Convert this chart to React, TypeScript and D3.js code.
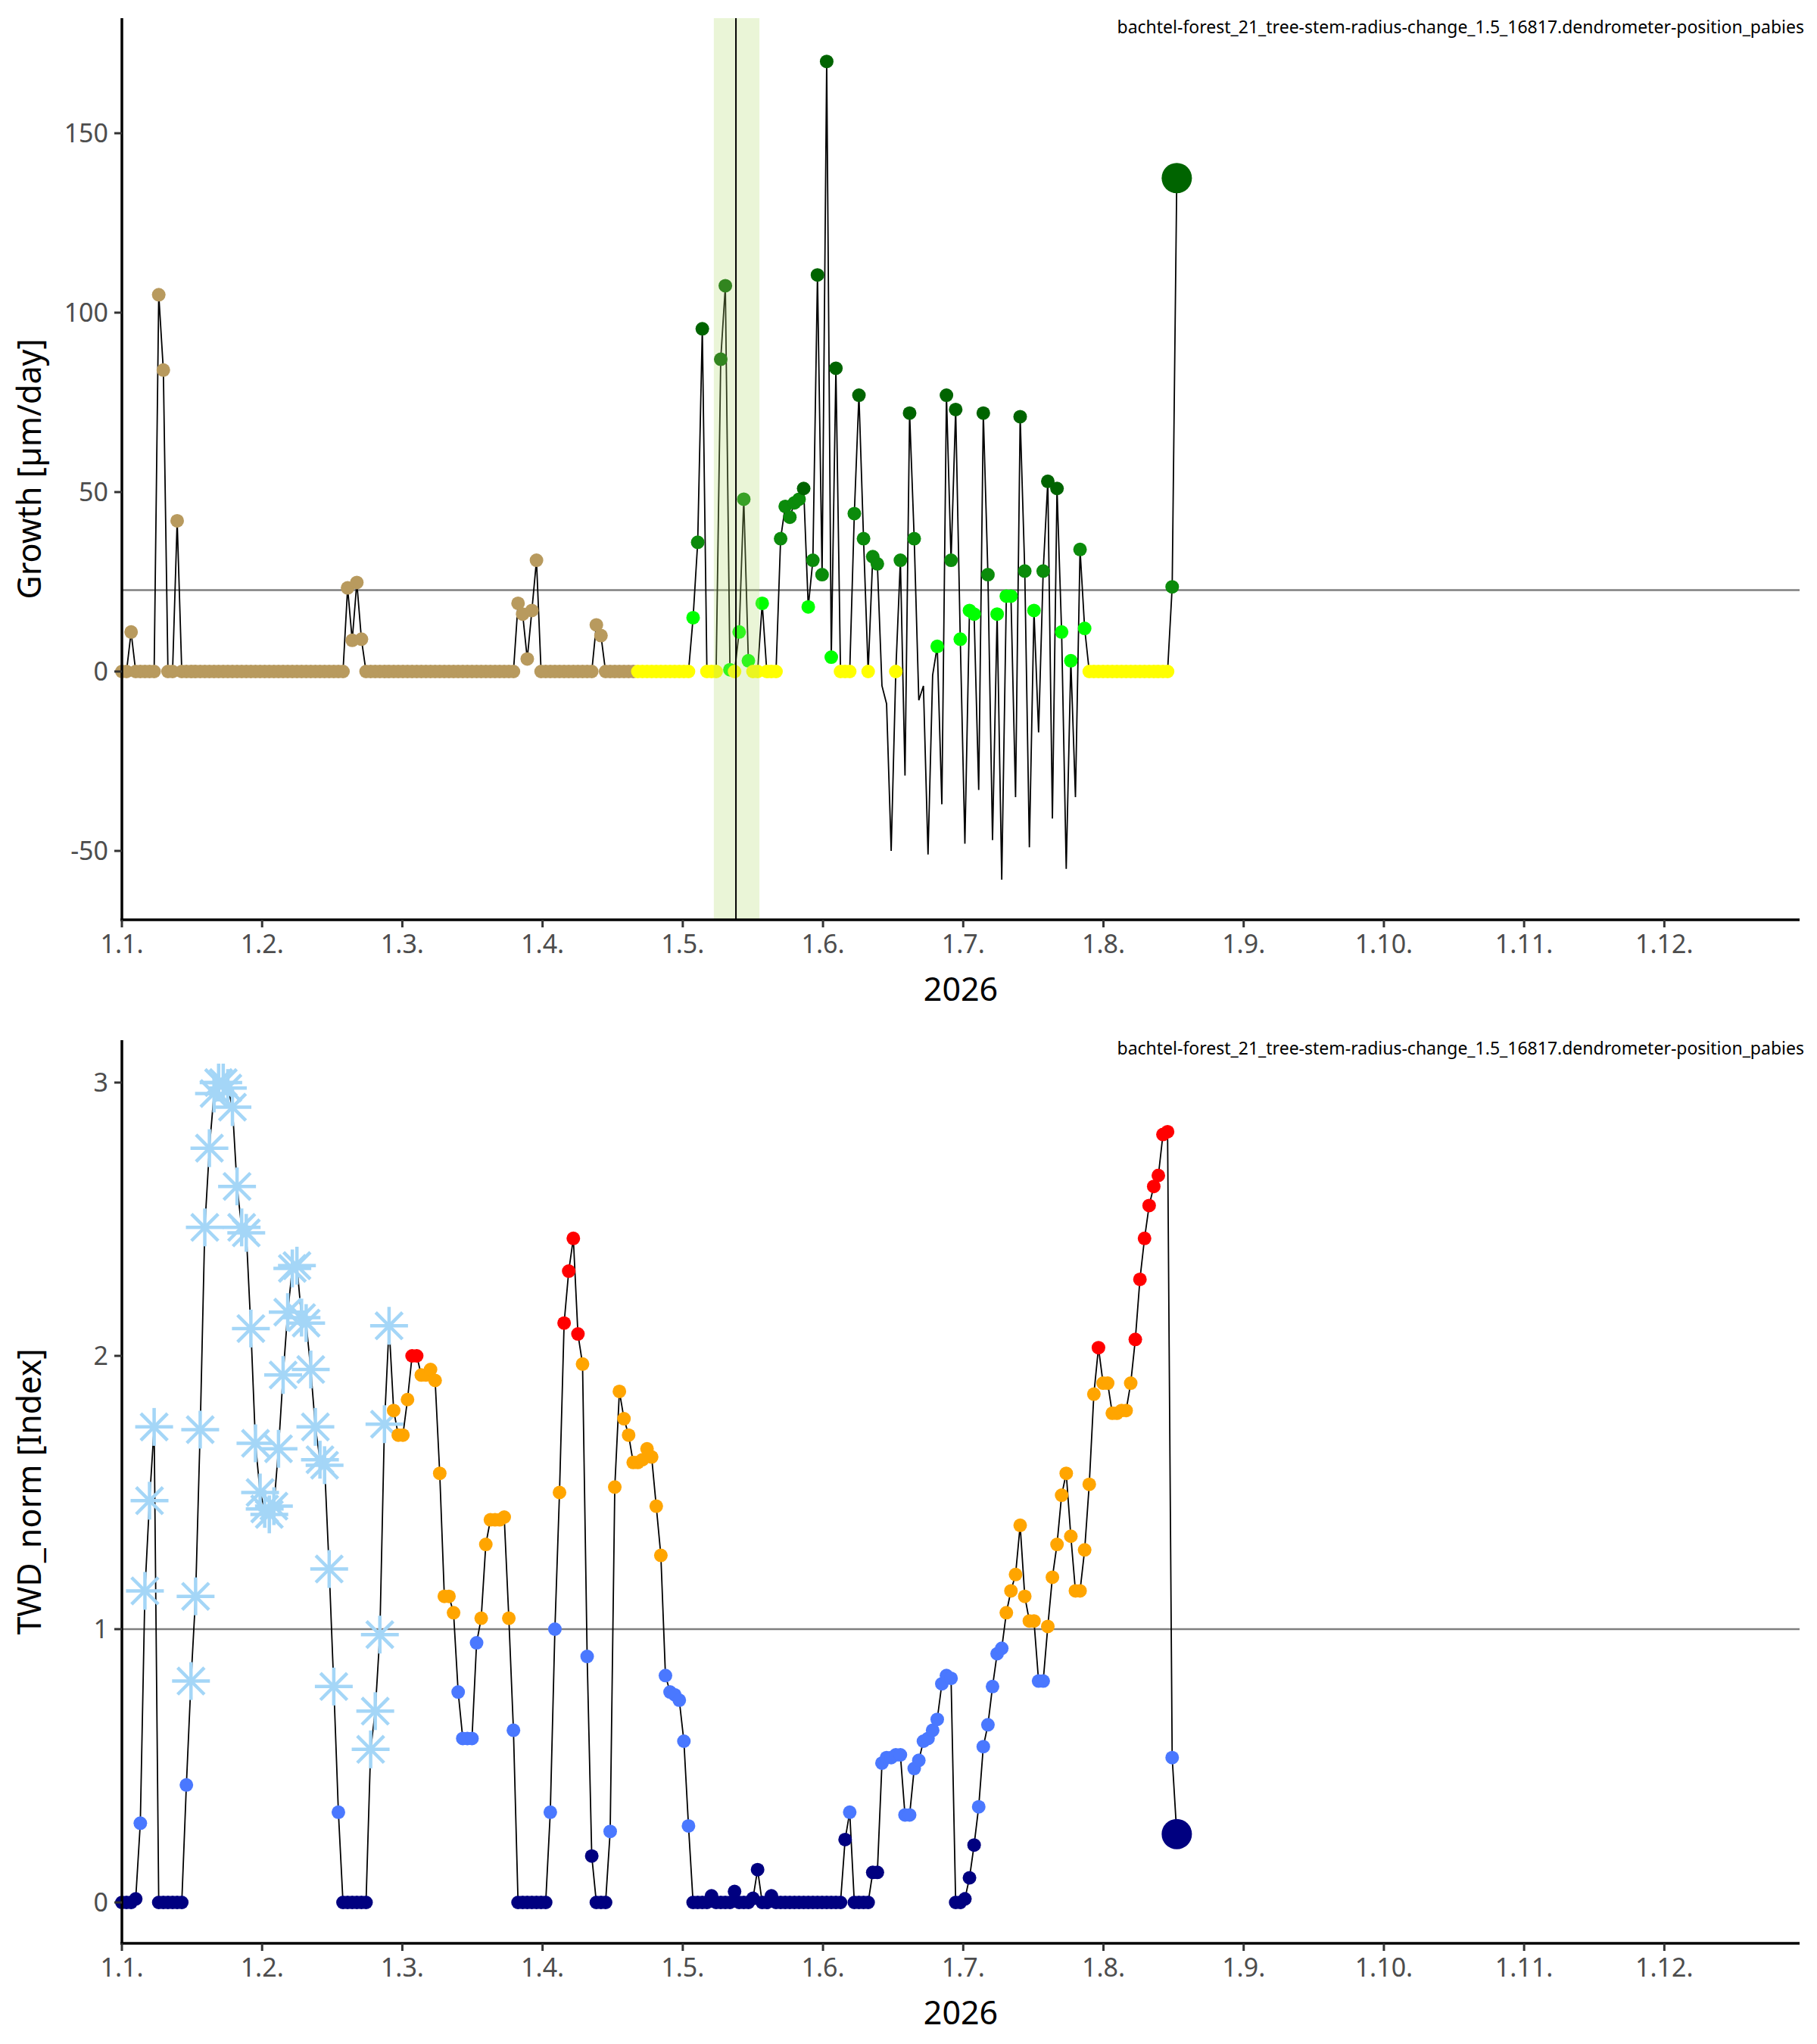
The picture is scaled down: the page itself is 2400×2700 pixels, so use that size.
import React from "react";
import * as d3 from "d3";

// Daily values, day index 0 = 1 Jan 2026
const growth: number[] = [
  0, 0, 11, 0, 0, 0, 0, 0, 105, 84,
  0, 0, 42, 0, 0, 0, 0, 0, 0, 0,
  0, 0, 0, 0, 0, 0, 0, 0, 0, 0,
  0, 0, 0, 0, 0, 0, 0, 0, 0, 0,
  0, 0, 0, 0, 0, 0, 0, 0, 0, 23.3,
  8.7, 24.8, 9, 0, 0, 0, 0, 0, 0, 0,
  0, 0, 0, 0, 0, 0, 0, 0, 0, 0,
  0, 0, 0, 0, 0, 0, 0, 0, 0, 0,
  0, 0, 0, 0, 0, 0, 19, 16, 3.5, 17,
  31, 0, 0, 0, 0, 0, 0, 0, 0, 0,
  0, 0, 0, 13, 10, 0, 0, 0, 0, 0,
  0, 0, 0, 0, 0, 0, 0, 0, 0, 0,
  0, 0, 0, 0, 15, 36, 95.5, 0, 0, 0,
  87, 107.5, 0.5, 0, 11, 48, 3, 0, 0, 19,
  0, 0, 0, 37, 46, 43, 47, 48, 51, 18,
  31, 110.5, 27, 170, 4, 84.5, 0, 0, 0, 44,
  77, 37, 0, 32, 30, -4, -9, -50, 0, 31,
  -29, 72, 37, -8, -4, -51, -1, 7, -37, 77,
  31, 73, 9, -48, 17, 16, -33, 72, 27, -47,
  16, -58, 21, 21, -35, 71, 28, -49, 17, -17,
  28, 53, -41, 51, 11, -55, 3, -35, 34, 12,
  0, 0, 0, 0, 0, 0, 0, 0, 0, 0,
  0, 0, 0, 0, 0, 0, 0, 0, 23.6, 137.5,
];

const twd: number[] = [
  0, 0, 0, 0.013, 0.29, 1.14, 1.47, 1.74, 0, 0,
  0, 0, 0, 0, 0.43, 0.81, 1.12, 1.73, 2.47, 2.76,
  2.96, 3.0, 3.0, 2.98, 2.91, 2.62, 2.47, 2.45, 2.1, 1.68,
  1.5, 1.44, 1.42, 1.45, 1.66, 1.93, 2.16, 2.32, 2.33, 2.14,
  2.12, 1.95, 1.74, 1.62, 1.6, 1.22, 0.79, 0.33, 0, 0,
  0, 0, 0, 0, 0.56, 0.7, 0.98, 1.75, 2.11, 1.8,
  1.71, 1.71, 1.84, 2.0, 2.0, 1.93, 1.93, 1.95, 1.91, 1.57,
  1.12, 1.12, 1.06, 0.77, 0.6, 0.6, 0.6, 0.95, 1.04, 1.31,
  1.4, 1.4, 1.4, 1.41, 1.04, 0.63, 0, 0, 0, 0,
  0, 0, 0, 0.33, 1.0, 1.5, 2.12, 2.31, 2.43, 2.08,
  1.97, 0.9, 0.17, 0, 0, 0, 0.26, 1.52, 1.87, 1.77,
  1.71, 1.61, 1.61, 1.62, 1.66, 1.63, 1.45, 1.27, 0.83, 0.77,
  0.76, 0.74, 0.59, 0.28, 0, 0, 0, 0, 0.024, 0,
  0, 0, 0, 0.04, 0, 0, 0, 0.015, 0.12, 0,
  0, 0.024, 0, 0, 0, 0, 0, 0, 0, 0,
  0, 0, 0, 0, 0, 0, 0, 0.23, 0.33, 0,
  0, 0, 0, 0.11, 0.11, 0.51, 0.53, 0.53, 0.54, 0.54,
  0.32, 0.32, 0.49, 0.52, 0.59, 0.6, 0.63, 0.67, 0.8, 0.83,
  0.82, 0, 0, 0.013, 0.09, 0.21, 0.35, 0.57, 0.65, 0.79,
  0.91, 0.93, 1.06, 1.14, 1.2, 1.38, 1.12, 1.03, 1.03, 0.81,
  0.81, 1.01, 1.19, 1.31, 1.49, 1.57, 1.34, 1.14, 1.14, 1.29,
  1.53, 1.86, 2.03, 1.9, 1.9, 1.79, 1.79, 1.8, 1.8, 1.9,
  2.06, 2.28, 2.43, 2.55, 2.62, 2.66, 2.81, 2.82, 0.53, 0.25,
];

const monthLabels = ["1.1.", "1.2.", "1.3.", "1.4.", "1.5.", "1.6.", "1.7.", "1.8.", "1.9.", "1.10.", "1.11.", "1.12."];
const growthTicks = [-50, 0, 50, 100, 150];
const twdTicks = [0, 1, 2, 3];
const growthThreshold = 22.7;
const twdThreshold = 1;
const frostEndDay = 59;
const dormantEndDay = 112;
const bandDays = [128.5, 138.4];
const markerDay = 133.3;
const title = "bachtel-forest_21_tree-stem-radius-change_1.5_16817.dendrometer-position_pabies";

const FONT = "'Noto Sans', 'Open Sans', sans-serif";
const X0 = 161, X1 = 2377;
const x = d3.scaleLinear().domain([0, 364.2]).range([X0, X1]);
const monthLen = 30.44;

const yTop = d3.scaleLinear().domain([0, 150]).range([887, 176]);
const yBot = d3.scaleLinear().domain([0, 3]).range([2513, 1430]);

function growthColor(v: number, d: number) {
  if (d < dormantEndDay) return "#B89A5E";
  if (v === 0) return "#FFFF00";
  if (v < growthThreshold) return "#00FF00";
  if (v < 50) return "#0B8B0B";
  return "#006400";
}
function twdColor(v: number) {
  if (v < 0.25) return "#000080";
  if (v <= 1.0) return "#4A78FF";
  if (v < 2) return "#FFA500";
  return "#FF0000";
}

function Asterisk({ cx, cy }: { cx: number; cy: number }) {
  const r = 25;
  const angles = [0, 45, 90, 135];
  return (
    <g stroke="#A4D6F7" strokeWidth={4.5}>
      {angles.map((a) => {
        const t = (a * Math.PI) / 180;
        return <line key={a} x1={cx - r * Math.cos(t)} y1={cy - r * Math.sin(t)} x2={cx + r * Math.cos(t)} y2={cy + r * Math.sin(t)} />;
      })}
    </g>
  );
}

function XAxis({ y0, titleY }: { y0: number; titleY: number }) {
  return (
    <g>
      <line x1={X0 - 2} x2={X1} y1={y0} y2={y0} stroke="#000" strokeWidth={3.5} />
      {monthLabels.map((l, i) => {
        const px = x(i * monthLen);
        return (
          <g key={l}>
            <line x1={px} x2={px} y1={y0} y2={y0 + 10} stroke="#333" strokeWidth={3} />
            <text x={px} y={y0 + 44} textAnchor="middle" fontSize={34} fill="#4D4D4D" fontFamily={FONT}>{l}</text>
          </g>
        );
      })}
      <text x={(X0 + X1) / 2} y={titleY} textAnchor="middle" fontSize={43} fill="#000" fontFamily={FONT}>2026</text>
    </g>
  );
}

function YAxis({ y, ticks, top, bottom, label }: { y: d3.ScaleLinear<number, number>; ticks: number[]; top: number; bottom: number; label: string }) {
  const mid = (top + bottom) / 2;
  return (
    <g>
      <line x1={X0} x2={X0} y1={top} y2={bottom + 2} stroke="#000" strokeWidth={3.5} />
      {ticks.map((t) => (
        <g key={t}>
          <line x1={X0 - 10} x2={X0} y1={y(t)} y2={y(t)} stroke="#333" strokeWidth={3} />
          <text x={X0 - 18} y={y(t) + 12} textAnchor="end" fontSize={34} fill="#4D4D4D" fontFamily={FONT}>{t}</text>
        </g>
      ))}
      <text transform={`translate(54,${mid}) rotate(-90)`} textAnchor="middle" fontSize={43} fill="#000" fontFamily={FONT}>{label}</text>
    </g>
  );
}

export default function App() {
  React.useEffect(() => { document.body.style.margin = "0"; }, []);
  const days = growth.map((_, i) => i);
  const lineTop = d3.line<number>().x((d) => x(d)).y((d) => yTop(growth[d]))(days) || "";
  const lineBot = d3.line<number>().x((d) => x(d)).y((d) => yBot(twd[d]))(twd.map((_, i) => i)) || "";
  const last = growth.length - 1;
  const lastB = twd.length - 1;
  const topT = 24, topB = 1215, botT = 1374, botB = 2567;
  return (
    <svg width={2400} height={2700} style={{ display: "block", background: "#fff" }}>
      <line x1={X0} x2={X1} y1={yTop(growthThreshold)} y2={yTop(growthThreshold)} stroke="#7F7F7F" strokeWidth={2.5} />
      <path d={lineTop} fill="none" stroke="#000" strokeWidth={1.8} />
      {growth.map((v, d) =>
        v >= 0 && d !== last ? <circle key={d} cx={x(d)} cy={yTop(v)} r={9} fill={growthColor(v, d)} /> : null
      )}
      <circle cx={x(last)} cy={yTop(growth[last])} r={20} fill="#006400" />
      <rect x={x(bandDays[0])} width={x(bandDays[1]) - x(bandDays[0])} y={topT} height={topB - topT} fill="#B5DC6E" opacity={0.28} />
      <line x1={x(markerDay)} x2={x(markerDay)} y1={topT} y2={topB} stroke="#000" strokeWidth={2} />
      <YAxis y={yTop} ticks={growthTicks} top={topT} bottom={topB} label="Growth [µm/day]" />
      <XAxis y0={topB} titleY={1322} />
      <text x={2383} y={44} textAnchor="end" fontSize={23} fill="#000" fontFamily={FONT}>{title}</text>

      <line x1={X0} x2={X1} y1={yBot(twdThreshold)} y2={yBot(twdThreshold)} stroke="#7F7F7F" strokeWidth={2.5} />
      <path d={lineBot} fill="none" stroke="#000" strokeWidth={1.8} />
      {twd.map((v, d) => {
        if (d === lastB) return null;
        if (d < frostEndDay && v >= 0.5) return <Asterisk key={d} cx={x(d)} cy={yBot(v)} />;
        return <circle key={d} cx={x(d)} cy={yBot(v)} r={9} fill={twdColor(v)} />;
      })}
      <circle cx={x(lastB)} cy={yBot(twd[lastB])} r={20} fill="#000080" />
      <YAxis y={yBot} ticks={twdTicks} top={botT} bottom={botB} label="TWD_norm [Index]" />
      <XAxis y0={botB} titleY={2674} />
      <text x={2383} y={1393} textAnchor="end" fontSize={23} fill="#000" fontFamily={FONT}>{title}</text>
    </svg>
  );
}
